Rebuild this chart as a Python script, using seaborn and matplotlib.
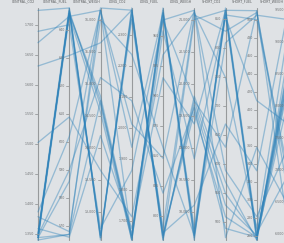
import matplotlib
matplotlib.use('Agg')
import matplotlib.pyplot as plt
import numpy as np
import pandas as pd
import seaborn as sns

sns.set_style('white')
plt.rcParams['font.family'] = ['DejaVu Sans']

# column names and their scale (domain) and tick step
columns = ['CENTRAL_CO2', 'CENTRAL_FUEL', 'CENTRAL_WEIGH', 'LONG_CO2', 'LONG_FUEL',
           'LONG_WEIGH', 'SHORT_CO2', 'SHORT_FUEL', 'SHORT_WEIGH']
domain_lo = [1340, 565, 12563, 1640, 780, 17563, 469, 255, 5900]
domain_hi = [1728, 648, 16188, 2388, 973, 21188, 869, 513, 9525]
tick_step = [50, 10, 500, 100, 25, 500, 50, 20, 500]

# one list per column, one value per vehicle
central_co2 = [1344, 1348, 1344, 1352, 1348, 1344, 1348, 1340, 1724, 1689,
               1670, 1503, 1387, 1344, 1340, 1348, 1379, 1359, 1631, 1344]
central_fuel = [647, 647, 646, 648, 646, 647, 646, 645, 648, 642,
                645, 609, 602, 567, 567, 590, 568, 566, 631, 586]
central_weigh = [12599, 12636, 12599, 12563, 14738, 14666, 14811, 14557, 12636, 12744,
                 16152, 13651, 16152, 16188, 14738, 15101, 16007, 14194, 15644, 16152]
long_co2 = [2381, 2373, 2366, 2388, 1640, 1647, 1655, 1640, 2351, 1864,
            1939, 1715, 1640, 2381, 1655, 2089, 2238, 1677, 2381, 2014]
long_fuel = [782, 784, 780, 784, 971, 973, 969, 967, 790, 963,
             969, 934, 954, 780, 963, 819, 857, 915, 786, 848]
long_weigh = [19738, 19666, 19811, 19557, 17636, 17599, 17672, 17563, 21079, 19738,
              17744, 21116, 18832, 21007, 21152, 19629, 17636, 19376, 18107, 21152]
short_co2 = [549, 529, 569, 509, 861, 857, 865, 869, 829, 629,
             857, 749, 853, 865, 589, 489, 809, 865, 669, 473]
short_fuel = [258, 260, 255, 258, 260, 255, 258, 263, 508, 510,
              500, 268, 410, 255, 281, 258, 505, 510, 332, 358]
short_weigh = [8438, 8510, 8365, 8619, 8438, 8293, 8583, 6915, 6843, 6625,
               6988, 9163, 7713, 8800, 7350, 8075, 9344, 6081, 9489, 6444]

df = pd.DataFrame(dict(zip(columns, [central_co2, central_fuel, central_weigh, long_co2,
                                     long_fuel, long_weigh, short_co2, short_fuel,
                                     short_weigh])))

# scale each column to 0..1 on its own domain
norm = df.copy()
for i, c in enumerate(columns):
    norm[c] = (df[c] - domain_lo[i]) / (domain_hi[i] - domain_lo[i])
norm['row'] = np.arange(len(df))
long = norm.melt(id_vars='row', var_name='col', value_name='y')
long['x'] = long['col'].map({c: i for i, c in enumerate(columns)})
long = long.sort_values(['row', 'x'])

bg = '#dfe2e5'
fig = plt.figure(figsize=(2.84, 2.43), dpi=100, facecolor=bg)
ax = fig.add_axes([38 / 284, 3 / 243, 250 / 284, 232 / 243])
ax.set_facecolor(bg)

sns.lineplot(data=long, x='x', y='y', units='row', estimator=None, sort=False,
             color='#2f83ba', alpha=0.42, linewidth=0.95, ax=ax, legend=False)
for ln in ax.lines:
    ln.set_clip_on(False)

ax.set_xlim(0, 8)
ax.set_ylim(0, 1)
for s in ax.spines.values():
    s.set_visible(False)
ax.set_xticks([])
ax.set_yticks([])
ax.set_xlabel('')
ax.set_ylabel('')

px = 1 / 31.25  # one pixel in x data units
for i, c in enumerate(columns):
    ax.plot([i, i], [0, 1], color='#979a9c', lw=0.8, clip_on=False, zorder=1)
    lo, hi = domain_lo[i], domain_hi[i]
    step = tick_step[i]
    t = np.ceil(lo / step) * step
    while t <= hi:
        yy = (t - lo) / (hi - lo)
        ax.plot([i - 3 * px, i], [yy, yy], color='#979a9c', lw=0.6, clip_on=False)
        ax.text(i - 4 * px, yy, f'{t:,.0f}', ha='right', va='center', fontsize=2.3,
                color='#6e7072', clip_on=False)
        t += step
    cx = i - 0.45 if i < 8 else i - 0.52
    ax.text(cx, 1.018, c, ha='center', va='bottom', fontsize=2.3,
            color='#5a5c5e', clip_on=False)

fig.savefig('out.png', dpi=100, facecolor=bg)
